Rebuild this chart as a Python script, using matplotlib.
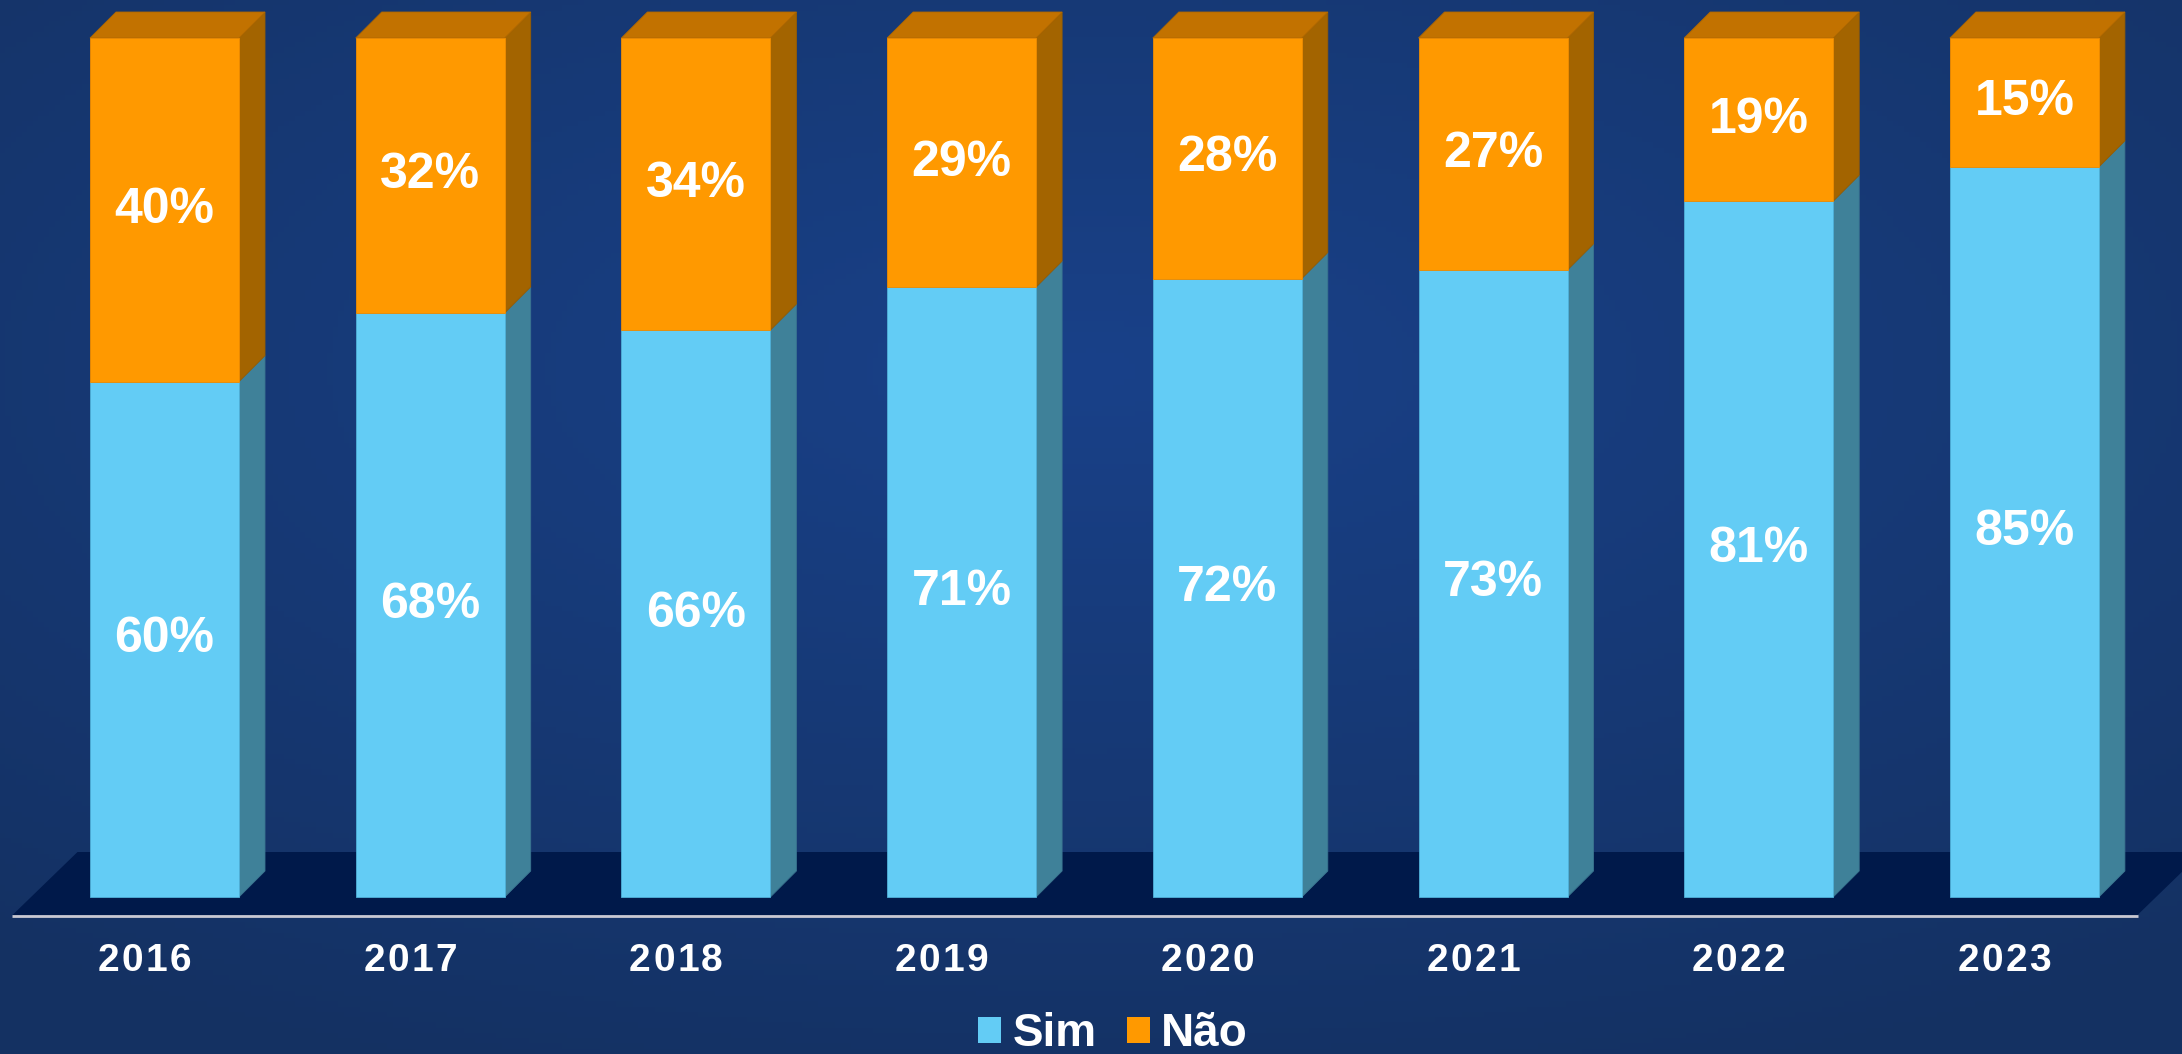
import matplotlib.pyplot as plt
import numpy as np
from matplotlib.patches import Polygon, Patch

# data
years = ["2016", "2017", "2018", "2019", "2020", "2021", "2022", "2023"]
sim = [60, 68, 66, 71, 72, 73, 81, 85]
nao = [40, 32, 34, 29, 28, 27, 19, 15]

SIM_FRONT, SIM_SIDE = "#63ccf5", "#3f8199"
NAO_FRONT, NAO_SIDE, NAO_TOP = "#ff9900", "#a36400", "#c27200"
FLOOR = "#00194a"

W, H, DPI = 2182, 1054, 100
fig = plt.figure(figsize=(W / DPI, H / DPI), dpi=DPI)

# soft radial background gradient
bg = fig.add_axes([0, 0, 1, 1], zorder=0)
gx, gy = np.meshgrid(np.linspace(-1, 1, 400), np.linspace(-1, 1, 200))
r = np.clip(np.sqrt(gx ** 2 + ((gy + 0.3) * 1.1) ** 2) / 1.6, 0, 1)
c0 = np.array([0x19, 0x41, 0x89]) / 255
c1 = np.array([0x14, 0x31, 0x62]) / 255
img = c0[None, None, :] * (1 - r[..., None]) + c1[None, None, :] * r[..., None]
bg.imshow(img, extent=[0, 1, 0, 1], aspect="auto", origin="upper")
bg.axis("off")

# main axes: x = bar index, y = percent
ax = fig.add_axes([0, 0, 1, 1], zorder=1)
ax.patch.set_alpha(0)
px_per_x = 265.7
px_per_y = 8.59
ax.set_xlim(-164.5 / px_per_x, (W - 164.5) / px_per_x)
ax.set_ylim(-(H - 897) / px_per_y, 897 / px_per_y)
ax.axis("off")

bw = 149 / px_per_x
dx = 26 / px_per_x
dy = 26 / px_per_y
x = np.arange(len(years))

# floor
fy0, fy1 = -18 / px_per_y, 45 / px_per_y
fxl, fxr = -152 / px_per_x, 1973 / px_per_x
floor_dx = 65 / px_per_x
ax.add_patch(Polygon([(fxl, fy0), (fxr, fy0), (fxr + floor_dx, fy1), (fxl + floor_dx, fy1)],
                     closed=True, fc=FLOOR, ec="none", zorder=1))
ax.plot([fxl, fxr], [fy0 - 0.1, fy0 - 0.1], color="#c8c8d2", lw=2, zorder=2, solid_capstyle="butt")

# bars with pseudo-3D faces
for i in range(len(years)):
    l, rgt = x[i] - bw / 2, x[i] + bw / 2
    s, n = sim[i], nao[i]
    ax.add_patch(Polygon([(rgt, 0), (rgt + dx, dy), (rgt + dx, s + dy), (rgt, s)],
                         fc=SIM_SIDE, ec="#3a7590", lw=0.6, zorder=3))
    ax.add_patch(Polygon([(rgt, s), (rgt + dx, s + dy), (rgt + dx, s + n + dy), (rgt, s + n)],
                         fc=NAO_SIDE, ec="#9a5e00", lw=0.6, zorder=3))
    ax.add_patch(Polygon([(l, s + n), (rgt, s + n), (rgt + dx, s + n + dy), (l + dx, s + n + dy)],
                         fc=NAO_TOP, ec="#b06800", lw=0.6, zorder=3))

ax.bar(x, sim, width=bw, color=SIM_FRONT, edgecolor="#4fb0d8", linewidth=0.6, zorder=4)
ax.bar(x, nao, width=bw, bottom=sim, color=NAO_FRONT, edgecolor="#f08c00", linewidth=0.6, zorder=4)

font = "Liberation Sans"
for i in range(len(years)):
    ax.text(x[i], sim[i] / 2, f"{sim[i]}%", ha="center", va="center", color="white",
            fontsize=36, fontweight="bold", family=font, zorder=5)
    ax.text(x[i], sim[i] + nao[i] / 2, f"{nao[i]}%", ha="center", va="center", color="white",
            fontsize=36, fontweight="bold", family=font, zorder=5)
    # year labels are letter-spaced: place each digit on its own
    cx = x[i] - 20 / px_per_x
    for k, ch in enumerate(years[i]):
        ax.text(cx + (k - 1.5) * 24 / px_per_x, -64 / px_per_y, ch, ha="center", va="center",
                color="white", fontsize=28, fontweight="bold", family=font, zorder=5)

handles = [Patch(fc=SIM_FRONT, ec="none", label="Sim"), Patch(fc=NAO_FRONT, ec="none", label="Não")]
leg = ax.legend(handles=handles, loc="center", bbox_to_anchor=(1113 / W, 1 - 1034 / H),
                ncol=2, frameon=False, handlelength=0.5, handleheight=0.5,
                handletextpad=0.25, columnspacing=0.65,
                prop={"family": font, "weight": "bold", "size": 33})
for t in leg.get_texts():
    t.set_color("white")

fig.savefig("out.png", dpi=DPI)
